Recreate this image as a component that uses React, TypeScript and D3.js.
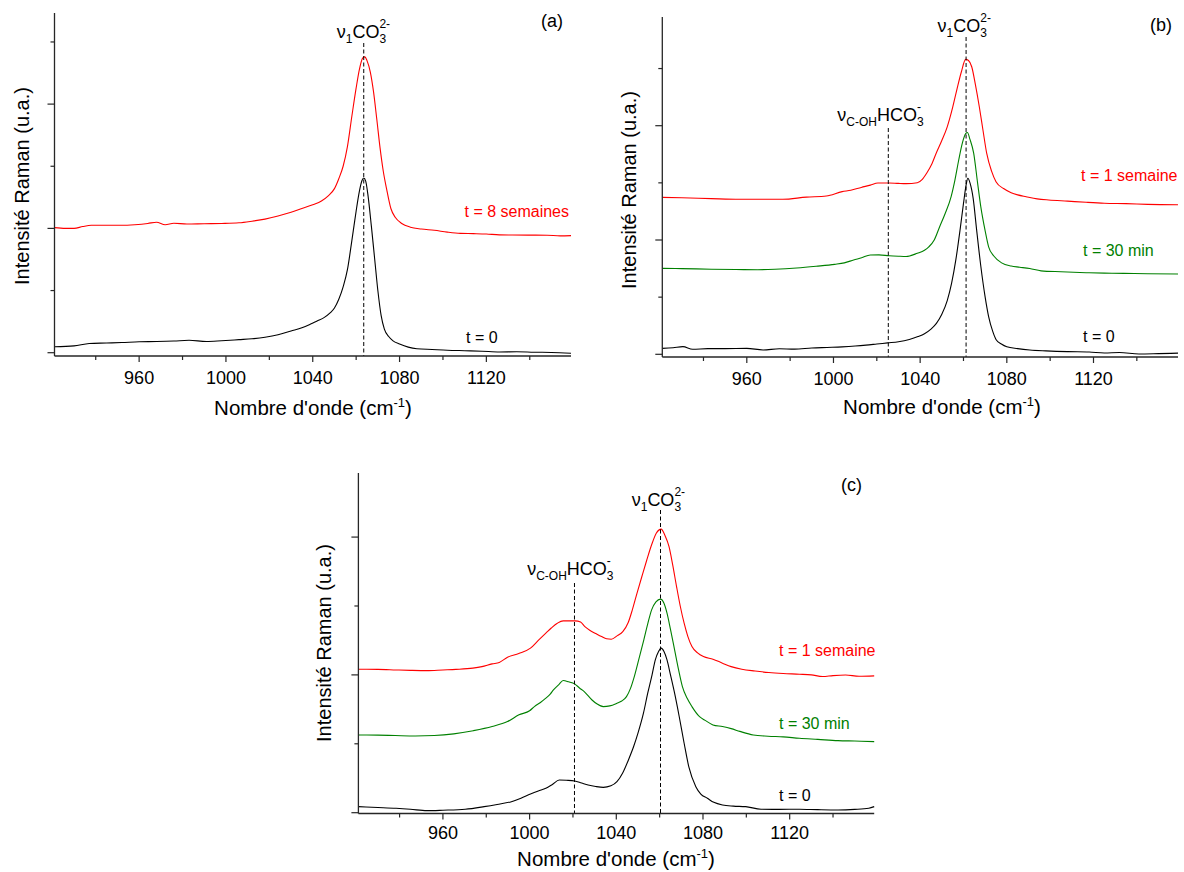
import React from 'react';
import * as d3 from 'd3';

type Pt = [number, number];

// ---------------- data ----------------
const wavenumberDomain: [number, number] = [921, 1159];
const xMajorTicks = [960, 1000, 1040, 1080, 1120];
const xMinorTicks = [940, 980, 1020, 1060, 1100, 1140];
const yMajorTicks = [0, 1, 2];
const yMinorTicks = [0.5, 1.5, 2.5];

const panelTags = ['(a)', '(b)', '(c)'];
const labelsA = ['t = 0', 't = 8 semaines'];
const labelsBC = ['t = 0', 't = 30 min', 't = 1 semaine'];
const carbonateBand = [1063.5, 1061.2, 1060.4];
const bicarbonateBand = [NaN, 1025.3, 1020.7];

const xTitle = "Nombre d'onde (cm";
const xTitleSup = '-1';
const yTitle = 'Intensité Raman (u.a.)';

const spectrumA_t0: Pt[] = [
  [921, 0.048], [930, 0.055], [937, 0.074], [945, 0.078], [952, 0.082], [960, 0.088], [968, 0.09],
  [976, 0.094], [983, 0.1], [991, 0.09], [998, 0.096], [1006, 0.105], [1012, 0.112], [1018, 0.125],
  [1024, 0.145], [1030, 0.175], [1035, 0.2], [1039, 0.23], [1042, 0.255], [1045, 0.28], [1048, 0.32],
  [1050, 0.36], [1052, 0.43], [1054, 0.53], [1056, 0.67], [1058, 0.9], [1059, 1.02], [1060, 1.14],
  [1061.5, 1.3], [1062.7, 1.385], [1063.5, 1.405], [1064.4, 1.38], [1065.5, 1.26], [1067, 1.02],
  [1068.5, 0.76], [1070, 0.5], [1071.5, 0.3], [1073, 0.19], [1075, 0.13], [1077, 0.095], [1080, 0.07],
  [1084, 0.045], [1088, 0.032], [1095, 0.026], [1102, 0.02], [1110, 0.016], [1118, 0.012],
  [1126, 0.006], [1134, 0.008], [1142, 0.004], [1150, 0.002], [1159, -0.004],
];

const spectrumA_8sem: Pt[] = [
  [921, 1.006], [926, 1.0], [930, 1.0], [934, 1.015], [938, 1.025], [945, 1.025], [952, 1.025],
  [958, 1.03], [964, 1.04], [968, 1.05], [972, 1.03], [976, 1.042], [982, 1.035], [990, 1.038],
  [998, 1.04], [1006, 1.045], [1012, 1.058], [1018, 1.075], [1024, 1.1], [1030, 1.13], [1035, 1.16],
  [1040, 1.19], [1044, 1.22], [1047, 1.26], [1050, 1.32], [1052, 1.4], [1054, 1.5], [1056, 1.66],
  [1058, 1.9], [1060, 2.13], [1061.5, 2.28], [1063, 2.37], [1064, 2.38], [1065, 2.35], [1066.5, 2.26],
  [1068, 2.1], [1069.5, 1.88], [1071, 1.65], [1072.5, 1.46], [1074, 1.32], [1076, 1.16], [1078, 1.09],
  [1081, 1.04], [1085, 1.01], [1090, 0.995], [1096, 0.985], [1102, 0.97], [1108, 0.96], [1114, 0.958],
  [1120, 0.955], [1126, 0.948], [1132, 0.947], [1140, 0.946], [1148, 0.945], [1154, 0.94], [1159, 0.942],
];

const spectrumB_t0: Pt[] = [
  [921, 0.052], [926, 0.058], [930.5, 0.067], [935, 0.044], [942, 0.05], [950, 0.05], [960, 0.052],
  [967.5, 0.038], [975, 0.048], [982, 0.045], [990, 0.055], [997, 0.06], [1004, 0.065], [1010, 0.072],
  [1015, 0.08], [1020, 0.09], [1025, 0.1], [1030, 0.11], [1035, 0.13], [1039, 0.155], [1042, 0.18],
  [1045, 0.22], [1047.5, 0.27], [1050, 0.35], [1052.5, 0.47], [1054.5, 0.62], [1056.5, 0.83],
  [1058.5, 1.1], [1060, 1.32], [1061.2, 1.48], [1062, 1.54], [1063, 1.5], [1064.5, 1.36], [1066, 1.1],
  [1068, 0.77], [1070, 0.5], [1071.6, 0.33], [1073.5, 0.2], [1075, 0.13], [1077.5, 0.09], [1080, 0.066],
  [1085, 0.05], [1090.6, 0.038], [1098, 0.03], [1108, 0.023], [1118, 0.02], [1125, 0.012], [1132, 0.016],
  [1141, 0.003], [1150, 0.006], [1159, 0.01],
];

const spectrumB_30min: Pt[] = [
  [921, 0.752], [930, 0.75], [943.6, 0.744], [955, 0.742], [965, 0.74], [973, 0.744], [983, 0.755],
  [992, 0.77], [1000.6, 0.787], [1005, 0.8], [1009.3, 0.825], [1013, 0.845], [1017, 0.869], [1021, 0.87],
  [1025.7, 0.862], [1030, 0.858], [1033.5, 0.856], [1038.7, 0.884], [1042, 0.91], [1044, 0.94],
  [1046.5, 1.0], [1049, 1.116], [1051.5, 1.23], [1054.3, 1.38], [1056, 1.52], [1057.8, 1.7],
  [1059.5, 1.85], [1061, 1.93], [1061.8, 1.94], [1063, 1.88], [1064.7, 1.76], [1066.5, 1.5],
  [1068, 1.29], [1070, 1.08], [1071.6, 0.94], [1074, 0.86], [1077.6, 0.8], [1082, 0.772], [1086, 0.762],
  [1090.6, 0.75], [1095.8, 0.73], [1105, 0.722], [1116.6, 0.714], [1125, 0.71], [1134, 0.708],
  [1145, 0.705], [1159, 0.703],
];

const spectrumB_1sem: Pt[] = [
  [921, 1.373], [930, 1.37], [943.6, 1.362], [956.7, 1.356], [969.5, 1.356], [976.6, 1.356],
  [987.5, 1.375], [996.7, 1.385], [1004, 1.423], [1008, 1.435], [1012.8, 1.46], [1017, 1.48],
  [1020.5, 1.499], [1025.7, 1.499], [1030, 1.495], [1033.5, 1.493], [1038.7, 1.501], [1041, 1.53],
  [1043, 1.584], [1045.5, 1.67], [1047.4, 1.759], [1050, 1.87], [1052.5, 1.99], [1055, 2.16],
  [1057, 2.32], [1059, 2.47], [1061, 2.58], [1062.3, 2.57], [1063.8, 2.516], [1065.5, 2.36],
  [1067.3, 2.166], [1069, 1.96], [1070.7, 1.76], [1073, 1.6], [1075, 1.51], [1078.5, 1.45],
  [1082, 1.414], [1085, 1.395], [1088.9, 1.379], [1094, 1.36], [1099.3, 1.35], [1108, 1.34],
  [1116.6, 1.33], [1125, 1.322], [1135, 1.318], [1145, 1.312], [1159, 1.309],
];

const spectrumC_t0: Pt[] = [
  [921, 0.044], [930, 0.038], [938.4, 0.032], [945, 0.025], [952.6, 0.015], [960, 0.018], [970.3, 0.025],
  [979, 0.044], [985, 0.06], [991.6, 0.08], [996, 0.105], [1000.4, 0.136], [1004, 0.158], [1007.5, 0.177],
  [1010.5, 0.205], [1013.7, 0.237], [1017, 0.235], [1020.8, 0.23], [1024, 0.215], [1027, 0.201],
  [1030.5, 0.19], [1034, 0.184], [1037.5, 0.195], [1040.3, 0.225], [1043, 0.29], [1045.6, 0.383],
  [1048, 0.48], [1050, 0.577], [1052.5, 0.72], [1054.5, 0.867], [1056.5, 1.0], [1058, 1.109],
  [1059.5, 1.17], [1060.7, 1.194], [1062, 1.17], [1063.4, 1.109], [1065, 1.0], [1066.9, 0.867],
  [1069, 0.7], [1071.3, 0.504], [1073.5, 0.33], [1076.7, 0.189], [1079, 0.135], [1082, 0.105],
  [1085, 0.075], [1089, 0.056], [1094, 0.048], [1099.7, 0.044], [1106.8, 0.025], [1115, 0.024],
  [1124.5, 0.025], [1133, 0.022], [1142.3, 0.02], [1150, 0.024], [1156.5, 0.032], [1159, 0.044],
];

const spectrumC_30min: Pt[] = [
  [921, 0.564], [930, 0.563], [938, 0.56], [947.2, 0.557], [956, 0.56], [965, 0.572], [974, 0.595],
  [982.7, 0.625], [989.8, 0.661], [995.1, 0.71], [1000, 0.74], [1002.2, 0.77], [1005, 0.8],
  [1007.5, 0.831], [1009.5, 0.86], [1011, 0.891], [1013.5, 0.93], [1015.5, 0.959], [1018, 0.95],
  [1020.8, 0.935], [1023, 0.905], [1025.2, 0.879], [1028.8, 0.818], [1031, 0.79], [1034, 0.77],
  [1037, 0.775], [1040.3, 0.794], [1042.5, 0.81], [1044.7, 0.842], [1046.5, 0.9], [1048.3, 0.988],
  [1050.5, 1.12], [1052.7, 1.254], [1054.5, 1.37], [1056.3, 1.472], [1058.3, 1.53], [1060.4, 1.55],
  [1062, 1.52], [1063.4, 1.448], [1065, 1.33], [1066.9, 1.182], [1068.7, 1.04], [1070.5, 0.915],
  [1072.7, 0.83], [1074.9, 0.77], [1078.4, 0.697], [1081, 0.67], [1084.6, 0.637], [1089, 0.625],
  [1093, 0.61], [1097, 0.59], [1103.2, 0.564], [1110, 0.555], [1117, 0.55], [1124.5, 0.54],
  [1133, 0.532], [1142.3, 0.523], [1150, 0.52], [1159, 0.516],
];

const spectrumC_1sem: Pt[] = [
  [921, 1.041], [930, 1.04], [938.4, 1.036], [945, 1.033], [952.6, 1.031], [960, 1.036], [966, 1.04],
  [973.8, 1.049], [978, 1.06], [982.7, 1.08], [986, 1.09], [989.8, 1.128], [995, 1.155], [1000.4, 1.194],
  [1004, 1.25], [1007.5, 1.303], [1010, 1.34], [1012.8, 1.375], [1015.5, 1.392], [1018.2, 1.392],
  [1021, 1.392], [1023.5, 1.383], [1025.5, 1.35], [1027.9, 1.322], [1030.5, 1.3], [1033.2, 1.278],
  [1035.5, 1.262], [1037.7, 1.259], [1040.5, 1.285], [1043, 1.314], [1045.5, 1.38], [1047.4, 1.472],
  [1049.5, 1.59], [1051.8, 1.714], [1054, 1.83], [1056.3, 1.944], [1058.5, 2.03], [1060.7, 2.058],
  [1062.5, 2.01], [1064.3, 1.932], [1066, 1.8], [1067.8, 1.641], [1069.5, 1.5], [1071.3, 1.375],
  [1073, 1.28], [1074.9, 1.206], [1077.5, 1.16], [1080.2, 1.133], [1084.6, 1.114], [1089, 1.085],
  [1093, 1.06], [1097.9, 1.041], [1104, 1.028], [1110.4, 1.017], [1117, 1.01], [1124.5, 1.005],
  [1130, 1.0], [1135.2, 0.988], [1140, 0.995], [1145.8, 0.999], [1152, 0.99], [1159, 0.993],
];

// ---------------- styles / layout ----------------
const FONT = '"Liberation Sans", Arial, Helvetica, sans-serif';
const BLACK = '#000000';
const GREEN = '#008000';
const RED = '#ff0000';
const AXIS = '#262626';

let ctx: CanvasRenderingContext2D | null = null;
function tw(s: string, size: number): number {
  if (!ctx && typeof document !== 'undefined') ctx = document.createElement('canvas').getContext('2d');
  if (!ctx) return s.length * size * 0.55;
  ctx.font = `${size}px "Liberation Sans", Arial, sans-serif`;
  return ctx.measureText(s).width;
}

type Part = { t: string; s: number; dy: number; sup?: string };
const co3Parts: Part[] = [
  { t: 'ν', s: 18, dy: 0 }, { t: '1', s: 12, dy: 5 }, { t: 'CO', s: 18, dy: 0 }, { t: '3', s: 12, dy: 5, sup: '2-' },
];
const hco3Parts: Part[] = [
  { t: 'ν', s: 18, dy: 0 }, { t: 'C-OH', s: 12, dy: 5 }, { t: 'HCO', s: 18, dy: 0 }, { t: '3', s: 12, dy: 5, sup: '-' },
];

function BandLabel({ x0, y0, parts }: { x0: number; y0: number; parts: Part[] }) {
  let cx = x0;
  const els: React.ReactNode[] = [];
  parts.forEach((p, i) => {
    els.push(
      <text key={'p' + i} x={cx} y={y0 + p.dy} fontSize={p.s} fill={BLACK}>{p.t}</text>
    );
    if (p.sup) {
      els.push(
        <text key={'s' + i} x={cx} y={y0 - 10} fontSize={12} fill={BLACK}>{p.sup}</text>
      );
    }
    cx += tw(p.t, p.s);
  });
  return <g fontFamily={FONT}>{els}</g>;
}

type Layout = {
  left: number; right: number; top: number; bottom: number; yDomain: [number, number];
  tickLabelY: number; titleX: number; titleY: number; yTitleX: number; yTitleY: number;
  tag: [number, number]; co3: [number, number, number]; hco3: [number, number, number] | null;
  labelPos: [number, number, string][];
};

const layouts: Layout[] = [
  {
    left: 54.5, right: 571, top: 13, bottom: 356, yDomain: [-0.0265, 2.733],
    tickLabelY: 384, titleX: 313, titleY: 415, yTitleX: 29, yTitleY: 186,
    tag: [563, 27], co3: [38, 43, -27], hco3: null,
    labelPos: [[466, 343, 'start'], [569, 217, 'end']],
  },
  {
    left: 662.3, right: 1178, top: 17, bottom: 357, yDomain: [-0.0236, 2.951],
    tickLabelY: 385, titleX: 942, titleY: 414, yTitleX: 636, yTitleY: 190,
    tag: [1172, 31], co3: [32, 37, -28.5], hco3: [121, 128, -51],
    labelPos: [[1083, 342, 'start'], [1083, 256, 'start'], [1081, 181, 'start']],
  },
  {
    left: 358.4, right: 874.2, top: 473, bottom: 813.5, yDomain: [-0.0058, 2.465],
    tickLabelY: 839, titleX: 616, titleY: 866, yTitleX: 331, yTitleY: 643,
    tag: [862, 491], co3: [506, 510, -28.8], hco3: [575, 583, -47.3],
    labelPos: [[779, 801, 'start'], [779, 729, 'start'], [779, 656, 'start']],
  },
];

const panelSeries: { data: Pt[]; color: string }[][] = [
  [{ data: spectrumA_t0, color: BLACK }, { data: spectrumA_8sem, color: RED }],
  [{ data: spectrumB_t0, color: BLACK }, { data: spectrumB_30min, color: GREEN }, { data: spectrumB_1sem, color: RED }],
  [{ data: spectrumC_t0, color: BLACK }, { data: spectrumC_30min, color: GREEN }, { data: spectrumC_1sem, color: RED }],
];
const panelLabels = [labelsA, labelsBC, labelsBC];

function Panel({ idx }: { idx: number }) {
  const L = layouts[idx];
  const x = d3.scaleLinear().domain(wavenumberDomain).range([L.left, L.right]);
  const y = d3.scaleLinear().domain(L.yDomain).range([L.bottom, L.top]);
  const line = d3.line<Pt>().x(d => x(d[0])).y(d => y(d[1])).curve(d3.curveMonotoneX);
  const inY = (t: number) => t >= L.yDomain[0] && t <= L.yDomain[1];
  const series = panelSeries[idx];
  const labels = panelLabels[idx];

  const co3x = x(carbonateBand[idx]);
  const hco3v = bicarbonateBand[idx];

  return (
    <g>
      {series.map((s, i) => (
        <path key={i} d={line(s.data) || ''} fill="none" stroke={s.color} strokeWidth={1.1} strokeLinejoin="round" />
      ))}
      <line x1={co3x} x2={co3x} y1={L.co3[1]} y2={L.bottom} stroke={BLACK} strokeWidth={1} strokeDasharray="4 2.5" />
      {L.hco3 && !isNaN(hco3v) && (
        <line x1={x(hco3v)} x2={x(hco3v)} y1={L.hco3[1]} y2={L.bottom} stroke={BLACK} strokeWidth={1} strokeDasharray="4 2.5" />
      )}
      <line x1={L.left} x2={L.left} y1={L.top} y2={L.bottom} stroke={AXIS} strokeWidth={1.3} />
      <line x1={L.left} x2={L.right} y1={L.bottom} y2={L.bottom} stroke={AXIS} strokeWidth={1.3} />
      {xMajorTicks.map(t => (
        <line key={'xM' + t} x1={x(t)} x2={x(t)} y1={L.bottom} y2={L.bottom + 6} stroke={AXIS} strokeWidth={1.2} />
      ))}
      {xMinorTicks.map(t => (
        <line key={'xm' + t} x1={x(t)} x2={x(t)} y1={L.bottom} y2={L.bottom + 4} stroke={AXIS} strokeWidth={1.2} />
      ))}
      {yMajorTicks.filter(inY).map(t => (
        <line key={'yM' + t} x1={L.left - 7} x2={L.left} y1={y(t)} y2={y(t)} stroke={AXIS} strokeWidth={1.2} />
      ))}
      {yMinorTicks.filter(inY).map(t => (
        <line key={'ym' + t} x1={L.left - 4} x2={L.left} y1={y(t)} y2={y(t)} stroke={AXIS} strokeWidth={1.2} />
      ))}
      <g fontFamily={FONT} fill={BLACK}>
        {xMajorTicks.map(t => (
          <text key={'xl' + t} x={x(t)} y={L.tickLabelY} fontSize={18} textAnchor="middle">{t}</text>
        ))}
        <text x={L.titleX} y={L.titleY} fontSize={20.5} textAnchor="middle">
          {xTitle}
          <tspan fontSize={13} dy={-8}>{xTitleSup}</tspan>
          <tspan dy={8}>)</tspan>
        </text>
        <text transform={`translate(${L.yTitleX},${L.yTitleY}) rotate(-90)`} fontSize={20} textAnchor="middle">
          {yTitle}
        </text>
        <text x={L.tag[0]} y={L.tag[1]} fontSize={18} textAnchor="end">{panelTags[idx]}</text>
        {labels.map((lab, i) => (
          <text key={'sl' + i} x={L.labelPos[i][0]} y={L.labelPos[i][1]} fontSize={16}
            textAnchor={L.labelPos[i][2] as any} fill={series[i].color}>{lab}</text>
        ))}
      </g>
      <BandLabel x0={co3x + L.co3[2]} y0={L.co3[0]} parts={co3Parts} />
      {L.hco3 && !isNaN(hco3v) && (
        <BandLabel x0={x(hco3v) + L.hco3[2]} y0={L.hco3[0]} parts={hco3Parts} />
      )}
    </g>
  );
}

export default function App() {
  return (
    <svg width={1184} height={872} viewBox="0 0 1184 872"
      style={{ position: 'absolute', left: 0, top: 0, background: '#ffffff' }}>
      <rect x={0} y={0} width={1184} height={872} fill="#ffffff" />
      <Panel idx={0} />
      <Panel idx={1} />
      <Panel idx={2} />
    </svg>
  );
}
